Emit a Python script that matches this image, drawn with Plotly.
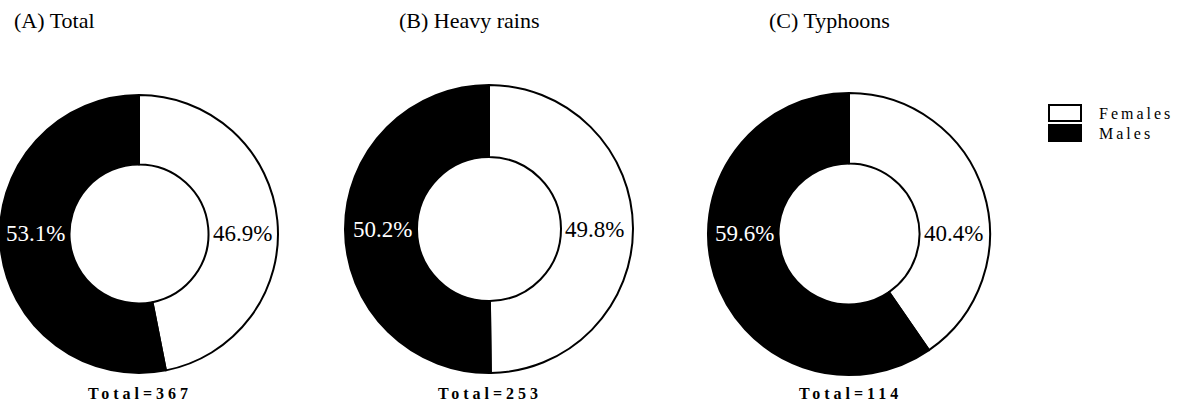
import plotly.graph_objects as go

W, H = 1183, 405
FONT = "Liberation Serif, Times New Roman, serif"

panels = ["(A) Total", "(B) Heavy rains", "(C) Typhoons"]
categories = ["Females", "Males"]
females_pct = [46.9, 49.8, 40.4]
males_pct = [53.1, 50.2, 59.6]
totals = [367, 253, 114]
hole_frac = 0.5

# pie boxes in pixels (left, right, top, bottom)
boxes = [(0, 278, 93, 375), (345, 633, 85, 373), (708, 990, 93, 375)]
title_x = [12, 397, 767]

fig = go.Figure()
annotations = []
for i, (lft, rgt, top, bot) in enumerate(boxes):
    fig.add_trace(go.Pie(
        labels=categories,
        values=[females_pct[i], males_pct[i]],
        hole=hole_frac,
        sort=False,
        direction="clockwise",
        rotation=0,
        textinfo="none",
        hoverinfo="label+percent",
        marker=dict(colors=["white", "black"], line=dict(color="black", width=2)),
        domain=dict(x=[lft / W, rgt / W], y=[(H - bot) / H, (H - top) / H]),
        showlegend=False,
    ))
    r = min(rgt - lft, bot - top) / 2
    cx = (lft + rgt) / 2
    cy = (top + bot) / 2
    rin = r * hole_frac
    annotations.append(dict(
        x=(cx - rin - 3) / W, y=(H - cy) / H, xref="paper", yref="paper",
        xanchor="right", yanchor="middle", showarrow=False,
        text=f"{males_pct[i]:.1f}%", font=dict(family=FONT, size=23, color="white")))
    annotations.append(dict(
        x=(cx + rin + 2) / W, y=(H - cy) / H, xref="paper", yref="paper",
        xanchor="left", yanchor="middle", showarrow=False,
        text=f"{females_pct[i]:.1f}%", font=dict(family=FONT, size=23, color="black")))
    annotations.append(dict(
        x=(cx + 1) / W, y=(H - 393) / H, xref="paper", yref="paper",
        xanchor="center", yanchor="middle", showarrow=False,
        text=f"<span style='letter-spacing:4px'><b>Total={totals[i]}</b></span>",
        font=dict(family=FONT, size=16, color="black")))
    annotations.append(dict(
        x=title_x[i] / W, y=(H - 20) / H, xref="paper", yref="paper",
        xanchor="left", yanchor="middle", showarrow=False,
        text=panels[i], font=dict(family=FONT, size=22, color="black")))

# legend
shapes = []
leg_rows = [(113, "white"), (133, "black")]
for (yc, col), name in zip(leg_rows, categories):
    shapes.append(dict(type="rect", xref="paper", yref="paper",
                       x0=1049 / W, x1=1081 / W, y0=(H - yc - 8) / H, y1=(H - yc + 8) / H,
                       fillcolor=col, line=dict(color="black", width=2)))
    annotations.append(dict(
        x=1097 / W, y=(H - yc) / H, xref="paper", yref="paper",
        xanchor="left", yanchor="middle", showarrow=False,
        text=f"<span style='letter-spacing:3px'>{name}</span>",
        font=dict(family=FONT, size=16, color="black")))

fig.update_layout(
    width=W, height=H,
    margin=dict(l=0, r=0, t=0, b=0),
    paper_bgcolor="white", plot_bgcolor="white",
    annotations=annotations, shapes=shapes,
    font=dict(family=FONT),
)
fig.write_html("out.html", config={"displayModeBar": False},
               post_script="document.body.style.margin='0';document.body.style.overflow='hidden';")
